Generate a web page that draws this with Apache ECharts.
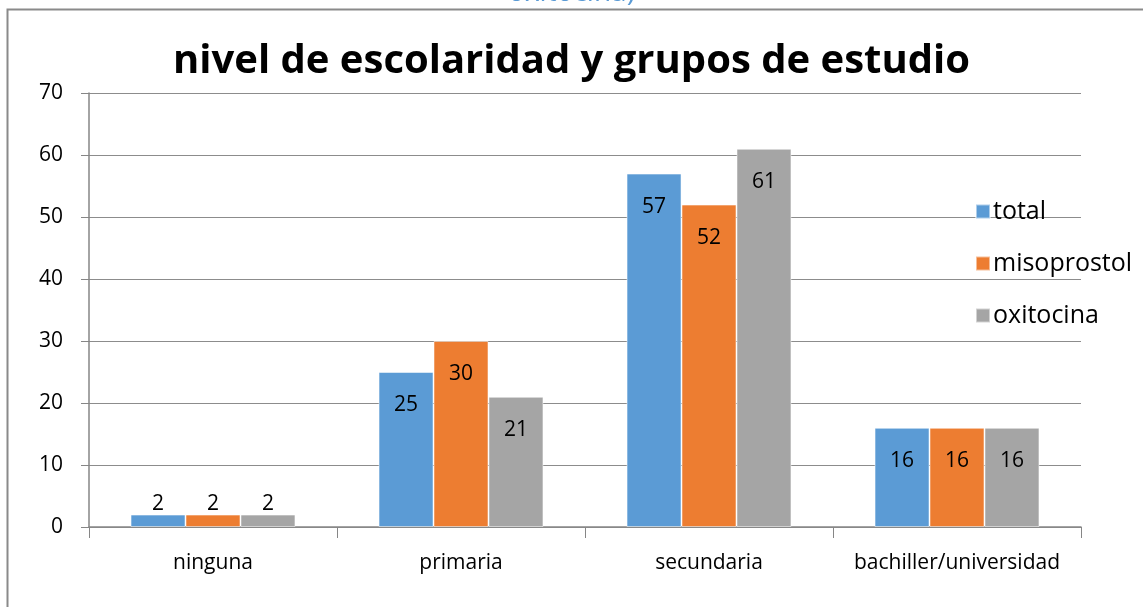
<!DOCTYPE html>
<html>
<head>
<meta charset="utf-8">
<script src="https://cdn.jsdelivr.net/npm/echarts@6/dist/echarts.min.js"></script>
<style>html,body{margin:0;padding:0;background:#fff}#c{width:1143px;height:607px}</style>
</head>
<body>
<div id="c"></div>
<script>
const categories = ['ninguna', 'primaria', 'secundaria', 'bachiller/universidad'];
const totalValues = [2, 25, 57, 16];
const misoprostolValues = [2, 30, 52, 16];
const oxitocinaValues = [2, 21, 61, 16];
const seriesNames = ['total', 'misoprostol', 'oxitocina'];
const yTicks = [0, 10, 20, 30, 40, 50, 60, 70];

const FONT = 'Open Sans';
const colors = ['#5B9BD5', '#ED7D31', '#A5A5A5'];

function mk(values) {
  return values.map(v => v < 5
    ? { value: v, label: { position: 'top', distance: 0 } }
    : { value: v });
}

const chart = echarts.init(document.getElementById('c'), null, { renderer: 'canvas' });
const allSeries = [totalValues, misoprostolValues, oxitocinaValues].map((vals, i) => ({
  name: seriesNames[i],
  type: 'bar',
  data: mk(vals),
  barGap: '0%',
  barCategoryGap: '33.5%',
  itemStyle: { color: colors[i], borderColor: 'rgba(255,255,255,0.5)', borderWidth: 1 },
  label: { show: true, position: 'insideTop', distance: 23, color: '#000', fontSize: 21, fontFamily: FONT },
  animation: false
}));

chart.setOption({
  animation: false,
  graphic: [
    { type: 'rect', shape: { x: 7.5, y: 9.5, width: 1200, height: 700 }, style: { fill: 'none', stroke: '#8a8a8a', lineWidth: 2 }, silent: true },
    { type: 'text', left: 'center', top: -21, style: { text: 'oxitocina)', fill: '#5B9BD5', fontSize: 28, fontFamily: FONT } }
  ],
  title: {
    text: 'nivel de escolaridad y grupos de estudio',
    left: 'center', top: 37,
    textStyle: { fontSize: 40, fontWeight: 'bold', color: '#000', fontFamily: FONT }
  },
  legend: {
    orient: 'vertical', left: 970, top: 194,
    itemWidth: 14, itemHeight: 14, itemGap: 27,
    icon: 'rect',
    textStyle: { fontSize: 25, lineHeight: 24, color: '#000', fontFamily: FONT, padding: [0, 0, 0, -2] },
    data: seriesNames
  },
  grid: { left: 89, right: 62, top: 93, bottom: 80, containLabel: false },
  xAxis: {
    type: 'category', data: categories,
    axisLine: { lineStyle: { color: '#868686', width: 1.5 } },
    axisTick: { show: true, length: 11, lineStyle: { color: '#868686' } },
    axisLabel: { color: '#000', fontSize: 21, fontFamily: FONT, margin: 26, interval: 0, hideOverlap: false }
  },
  yAxis: {
    type: 'value', min: yTicks[0], max: yTicks[yTicks.length - 1], interval: 10,
    axisLine: { show: true, lineStyle: { color: '#868686', width: 1.5 } },
    axisTick: { show: true, length: 8, lineStyle: { color: '#868686' } },
    axisLabel: { color: '#000', fontSize: 21, fontFamily: FONT, margin: 26 },
    splitLine: { lineStyle: { color: '#8c8c8c', width: 1 } }
  },
  series: allSeries
});
</script>
</body>
</html>
